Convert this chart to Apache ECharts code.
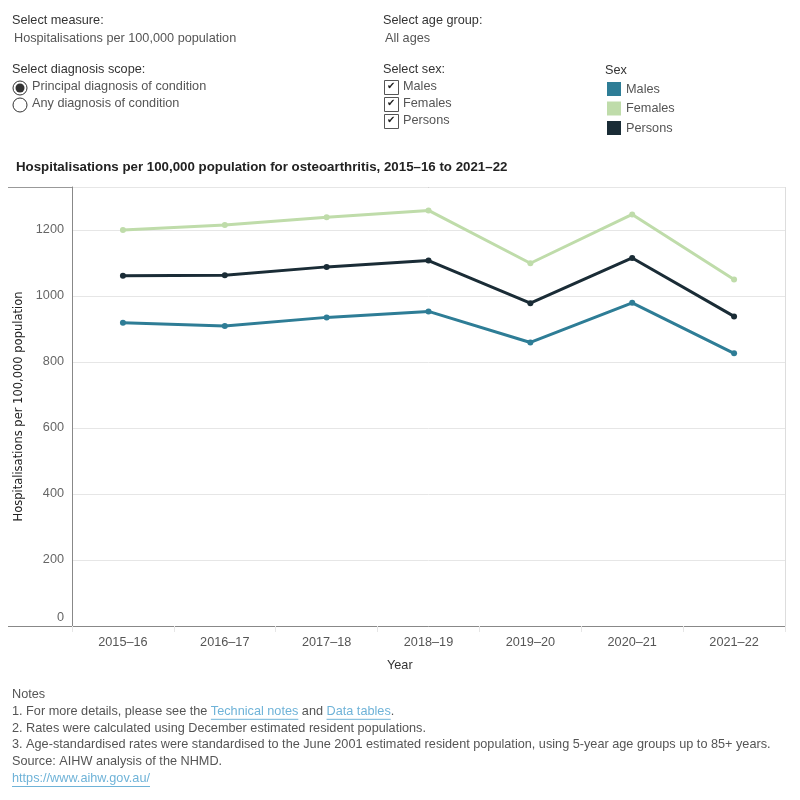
<!DOCTYPE html>
<html>
<head>
<meta charset="utf-8">
<script src="https://cdn.jsdelivr.net/npm/echarts@6/dist/echarts.min.js"></script>
<style>
  html, body { margin: 0; padding: 0; background: #fff; }
  #main { width: 800px; height: 800px; }
</style>
</head>
<body>
<div id="main"></div>
<script>
// data
var years = ['2015–16', '2016–17', '2017–18', '2018–19', '2019–20', '2020–21', '2021–22'];
var males = [919, 909, 935, 953, 859, 979, 826];
var females = [1200, 1215, 1238, 1259, 1099, 1247, 1050];
var persons = [1061, 1063, 1088, 1107, 978, 1115, 938];
var yTicks = [0, 200, 400, 600, 800, 1000, 1200];

var colMales = '#2e7d96';
var colFemales = '#bfdcaa';
var colPersons = '#1a2c36';

var FONT = '"Liberation Sans", Arial, sans-serif';
var FS = 12.7;
var txtDark = '#333333';
var txtGrey = '#555555';
var linkCol = '#6fb3d8';

// measure text width so link underlines sit under the right words
var cvs = document.createElement('canvas');
var ctx = cvs.getContext('2d');
function textW(s, size) {
  ctx.font = size + 'px ' + FONT;
  return ctx.measureText(s).width;
}

function txt(x, y, s, opt) {
  opt = opt || {};
  return {
    type: 'text', left: x, top: y, silent: true,
    style: {
      text: s, fill: opt.color || txtGrey, fontSize: opt.size || FS,
      fontFamily: opt.family || FONT, fontWeight: opt.weight || 'normal'
    }
  };
}
function hline(x1, x2, y, color) {
  return { type: 'line', silent: true, shape: { x1: x1, y1: y, x2: x2, y2: y }, style: { stroke: color, lineWidth: 1 } };
}

var g = [];
// header controls
g.push(txt(12, 14, 'Select measure:', { color: txtDark }));
g.push(txt(14, 32, 'Hospitalisations per 100,000 population'));
g.push(txt(383, 14, 'Select age group:', { color: txtDark }));
g.push(txt(385, 32, 'All ages'));
g.push(txt(12, 63, 'Select diagnosis scope:', { color: txtDark }));
g.push({ type: 'circle', silent: true, shape: { cx: 20, cy: 88, r: 7 }, style: { fill: '#fff', stroke: '#333', lineWidth: 1 } });
g.push({ type: 'circle', silent: true, shape: { cx: 20, cy: 88, r: 4.5 }, style: { fill: '#333' } });
g.push({ type: 'circle', silent: true, shape: { cx: 20, cy: 105, r: 7 }, style: { fill: '#fff', stroke: '#333', lineWidth: 1 } });
g.push(txt(32, 80, 'Principal diagnosis of condition'));
g.push(txt(32, 97, 'Any diagnosis of condition'));
g.push(txt(383, 63, 'Select sex:', { color: txtDark }));
['Males', 'Females', 'Persons'].forEach(function (s, i) {
  var y = 80 + i * 17;
  g.push({ type: 'rect', silent: true, shape: { x: 384.5, y: y + 0.5, width: 14, height: 14 }, style: { fill: '#fff', stroke: '#555', lineWidth: 1 } });
  g.push(txt(387, y + 1, '✔', { color: '#222', size: 10, family: 'DejaVu Sans' }));
  g.push(txt(403, y, s));
});
g.push(txt(605, 64, 'Sex', { color: txtDark }));

// frame pieces outside the grid
g.push(hline(8, 786, 187.5, '#999'));
g.push(hline(8, 72, 626.5, '#888'));
g.push({ type: 'line', silent: true, shape: { x1: 785.5, y1: 187, x2: 785.5, y2: 626 }, style: { stroke: '#ddd', lineWidth: 1 } });

// titles
g.push(txt(16, 161, 'Hospitalisations per 100,000 population for osteoarthritis, 2015–16 to 2021–22', { color: '#222', size: 13.3, weight: 'bold' }));
g.push({ type: 'text', silent: true, left: 387, top: 659, style: { text: 'Year', fill: txtDark, fontSize: FS, fontFamily: FONT } });

// notes
var NY = 688, NS = 16.8;
var notes = [
  'Notes',
  null,
  '2. Rates were calculated using December estimated resident populations.',
  '3. Age-standardised rates were standardised to the June 2001 estimated resident population, using 5-year age groups up to 85+ years.',
  'Source: AIHW analysis of the NHMD.'
];
notes.forEach(function (s, i) {
  if (s) g.push(txt(12, NY + i * NS, s));
});
// note 1 with links
var n1y = NY + NS;
var p1 = '1. For more details, please see the ';
var l1 = 'Technical notes';
var p2 = ' and ';
var l2 = 'Data tables';
var x = 12;
g.push(txt(x, n1y, p1)); x += textW(p1, FS);
g.push(txt(x, n1y, l1, { color: linkCol })); g.push(hline(x, x + textW(l1, FS), n1y + 14.5, linkCol)); x += textW(l1, FS);
g.push(txt(x, n1y, p2)); x += textW(p2, FS);
g.push(txt(x, n1y, l2, { color: linkCol })); g.push(hline(x, x + textW(l2, FS), n1y + 14.5, linkCol)); x += textW(l2, FS);
g.push(txt(x, n1y, '.'));
var url = 'https://www.aihw.gov.au/';
var uy = NY + 5 * NS;
g.push(txt(12, uy, url, { color: linkCol }));
g.push(hline(12, 12 + textW(url, FS), uy + 14.5, linkCol));

var chart = echarts.init(document.getElementById('main'));
var option = {
  animation: false,
  backgroundColor: '#fff',
  textStyle: { fontFamily: FONT },
  grid: { left: 72, right: 15, top: 187, bottom: 174 },
  legend: {
    orient: 'vertical', left: 607, top: 82, padding: 0,
    itemWidth: 14, itemHeight: 14, itemGap: 5.5,
    icon: 'rect',
    data: ['Males', 'Females', 'Persons'],
    textStyle: { color: txtGrey, fontSize: FS, fontFamily: FONT, padding: [2, 0, 0, 0] },
    selectedMode: false
  },
  xAxis: {
    type: 'category',
    data: years,
    boundaryGap: true,
    axisLine: { show: true, lineStyle: { color: '#888', width: 1 } },
    axisTick: { show: true, length: 6, lineStyle: { color: '#e6e6e6' } },
    axisLabel: { color: txtGrey, fontSize: FS, margin: 10 },
    splitLine: { show: false }
  },
  yAxis: {
    type: 'value',
    min: 0,
    max: 1330,
    interval: 200,
    name: 'Hospitalisations per 100,000 population',
    nameLocation: 'middle',
    nameGap: 45,
    nameTextStyle: { color: '#222', fontSize: 11.5, fontFamily: '"DejaVu Sans", sans-serif' },
    axisLine: { show: true, lineStyle: { color: '#888', width: 1 } },
    axisTick: { show: false },
    axisLabel: {
      color: '#666', fontSize: FS, margin: 8, showMaxLabel: false,
      formatter: function (v) {
        if (yTicks.indexOf(v) < 0) return '';
        return v === 0 ? '{z|0}' : String(v);
      },
      rich: { z: { color: '#666', fontSize: FS, padding: [0, 0, 18, 0] } }
    },
    splitLine: { show: true, lineStyle: { color: '#e6e6e6', width: 1 } }
  },
  series: [
    {
      name: 'Males', type: 'line', data: males,
      symbol: 'circle', symbolSize: 6,
      lineStyle: { color: colMales, width: 3 }, itemStyle: { color: colMales }
    },
    {
      name: 'Females', type: 'line', data: females,
      symbol: 'circle', symbolSize: 6,
      lineStyle: { color: colFemales, width: 3 }, itemStyle: { color: colFemales }
    },
    {
      name: 'Persons', type: 'line', data: persons,
      symbol: 'circle', symbolSize: 6,
      lineStyle: { color: colPersons, width: 3 }, itemStyle: { color: colPersons }
    }
  ],
  graphic: g
};
chart.setOption(option);
</script>
</body>
</html>
